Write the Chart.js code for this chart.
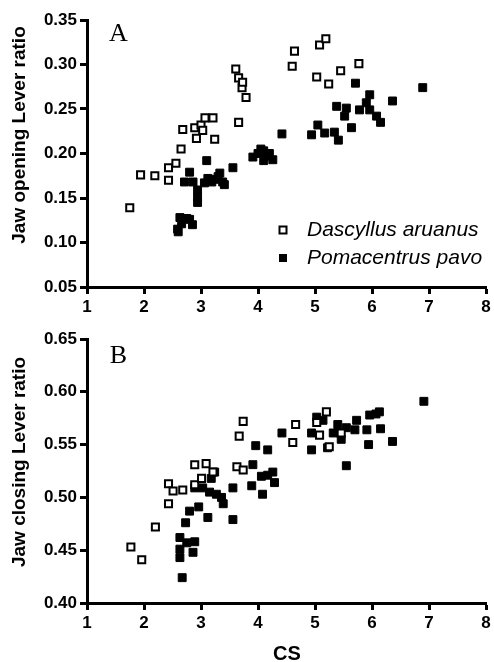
<!DOCTYPE html>
<html>
<head>
<meta charset="utf-8">
<script src="https://cdn.jsdelivr.net/npm/chart.js@4.4.1/dist/chart.umd.min.js"></script>
<style>
  body { margin: 0; background: #fff; }
  .panel { position: absolute; left: 0; width: 494px; }
</style>
</head>
<body>
<div class="panel" style="top:0;height:320px"><canvas id="panelA"></canvas></div>
<div class="panel" style="top:320px;height:342px"><canvas id="panelB"></canvas></div>
<script>
const xTicks = [1, 2, 3, 4, 5, 6, 7, 8];
const yTicksA = [0.05, 0.10, 0.15, 0.20, 0.25, 0.30, 0.35];
const yTicksB = [0.40, 0.45, 0.50, 0.55, 0.60, 0.65];
const speciesNames = ['Dascyllus aruanus', 'Pomacentrus pavo'];

// panel A: jaw opening lever ratio
const dascA_cs = [1.75, 1.94, 2.19, 2.43, 2.43, 2.56, 2.65, 2.68, 2.89, 2.92, 3.0, 3.03, 3.07, 3.21, 3.24,
  3.61, 3.66, 3.66, 3.72, 3.73, 3.79, 4.60, 4.64, 5.03, 5.08, 5.19, 5.24, 5.45, 5.77];
const dascA_ratio = [0.139, 0.176, 0.175, 0.170, 0.184, 0.189, 0.205, 0.227, 0.229, 0.217, 0.232, 0.226, 0.240, 0.240, 0.216,
  0.295, 0.285, 0.235, 0.274, 0.280, 0.263, 0.298, 0.315, 0.286, 0.322, 0.329, 0.278, 0.293, 0.301];
const pomaA_cs = [2.59, 2.60, 2.63, 2.66, 2.75, 2.80, 2.85, 2.71, 2.80, 2.86, 2.94, 2.94, 2.94, 3.06, 3.10, 3.12, 3.19,
  3.25, 3.30, 3.33, 3.38, 3.41, 3.56, 3.91, 4.00, 4.05, 4.10, 4.15, 4.20, 4.26, 4.10, 4.42, 4.94, 5.05, 5.17, 5.34,
  5.41, 5.64, 5.38, 5.55, 5.52, 5.71, 5.96, 5.78, 5.90, 5.96, 6.08, 6.15, 6.36, 6.89];
const pomaA_ratio = [0.115, 0.112, 0.128, 0.121, 0.127, 0.126, 0.120, 0.168, 0.179, 0.168, 0.159, 0.151, 0.145, 0.167, 0.192, 0.172, 0.168,
  0.171, 0.174, 0.178, 0.168, 0.165, 0.184, 0.196, 0.200, 0.205, 0.203, 0.197, 0.200, 0.193, 0.192, 0.222, 0.221, 0.232, 0.223, 0.224,
  0.215, 0.229, 0.253, 0.251, 0.242, 0.279, 0.266, 0.249, 0.257, 0.249, 0.242, 0.235, 0.259, 0.274];

// panel B: jaw closing lever ratio
const dascB_cs = [1.77, 1.96, 2.20, 2.43, 2.43, 2.51, 2.68, 2.89, 2.89, 3.01, 3.09, 3.21, 3.63, 3.67, 3.74, 3.74,
  4.61, 4.66, 5.03, 5.08, 5.20, 5.25, 5.46];
const dascB_ratio = [0.453, 0.441, 0.472, 0.494, 0.513, 0.506, 0.507, 0.531, 0.512, 0.518, 0.532, 0.524, 0.529, 0.558, 0.572, 0.526,
  0.552, 0.569, 0.571, 0.559, 0.581, 0.548, 0.561];
const pomaB_cs = [2.67, 2.63, 2.63, 2.63, 2.75, 2.86, 2.89, 2.73, 2.80, 2.96, 3.12, 2.89, 3.03, 3.15, 3.27, 3.36, 3.39,
  3.18, 3.24, 3.56, 3.56, 3.89, 3.91, 3.96, 4.17, 4.08, 4.06, 4.17, 4.26, 4.29, 4.42, 4.94, 4.94, 5.22, 5.14, 5.03,
  5.32, 5.40, 5.55, 5.46, 5.55, 5.73, 5.70, 5.91, 5.94, 5.96, 6.13, 6.07, 6.15, 6.36, 6.91];
const pomaB_ratio = [0.424, 0.443, 0.451, 0.462, 0.457, 0.448, 0.458, 0.476, 0.487, 0.491, 0.481, 0.509, 0.509, 0.505, 0.503, 0.500, 0.494,
  0.518, 0.524, 0.479, 0.509, 0.511, 0.531, 0.549, 0.545, 0.503, 0.520, 0.521, 0.524, 0.514, 0.561, 0.545, 0.561, 0.547, 0.573, 0.576,
  0.561, 0.569, 0.566, 0.555, 0.530, 0.573, 0.564, 0.564, 0.550, 0.578, 0.581, 0.579, 0.565, 0.553, 0.591];

const zip = (xs, ys) => xs.map((x, i) => ({ x, y: ys[i] }));

const openSq = { pointStyle: 'rect', pointRadius: 5, borderWidth: 2, borderColor: '#000', backgroundColor: '#fff' };
const fillSq = { pointStyle: 'rect', pointRadius: 5.6, borderWidth: 1, borderColor: '#000', backgroundColor: '#000' };

const decor = {
  id: 'decor',
  afterDraw(chart, args, o) {
    const ctx = chart.ctx;
    ctx.save();
    ctx.fillStyle = '#000';
    // y axis title
    ctx.save();
    ctx.translate(o.yTitleX, o.yTitleY);
    ctx.rotate(-Math.PI / 2);
    ctx.font = 'bold 19px "Liberation Sans", Arial, sans-serif';
    ctx.textAlign = 'center';
    ctx.textBaseline = 'middle';
    ctx.fillText(o.yTitle, 0, 0);
    ctx.restore();
    // panel letter
    ctx.font = '26px "Liberation Serif", "Times New Roman", serif';
    ctx.textAlign = 'center';
    ctx.textBaseline = 'alphabetic';
    ctx.fillText(o.letter, 118.5, o.letterY);
    if (o.xTitle) {
      ctx.font = 'bold 20px "Liberation Sans", Arial, sans-serif';
      ctx.textBaseline = 'middle';
      ctx.fillText(o.xTitle, 287, o.xTitleY);
    }
    if (o.legend) {
      ctx.font = 'italic 21px "Liberation Sans", Arial, sans-serif';
      ctx.textAlign = 'left';
      ctx.textBaseline = 'middle';
      ctx.lineWidth = 2;
      ctx.strokeStyle = '#000';
      ctx.strokeRect(279.5, 226.5, 7, 7);
      ctx.fillRect(279, 254, 8, 8);
      ctx.fillText(speciesNames[0], 307, 230);
      ctx.fillText(speciesNames[1], 307, 258);
    }
    ctx.restore();
  }
};

function axisStyle(min, max, step, ticks, digits, fitKey, fitVal) {
  return {
    type: 'linear',
    min, max,
    afterBuildTicks: (s) => { s.ticks = ticks.map(v => ({ value: v })); },
    afterFit: (s) => { s[fitKey] = fitVal; },
    ticks: {
      stepSize: step,
      color: '#000',
      padding: 3,
      font: { family: '"Liberation Sans", Arial, sans-serif', size: 17, weight: 'bold' },
      callback: (v) => digits ? Number(v).toFixed(digits) : v
    },
    grid: { display: true, drawOnChartArea: false, drawTicks: true, tickLength: 7, tickWidth: 3, tickColor: '#000' },
    border: { display: true, color: '#000', width: 3 }
  };
}

function makePanel(id, sets, yMin, yMax, yTicks, padTop, xHeight, deco) {
  return new Chart(document.getElementById(id), {
    type: 'scatter',
    data: {
      datasets: [
        { label: speciesNames[0], data: sets[0], ...openSq },
        { label: speciesNames[1], data: sets[1], ...fillSq }
      ]
    },
    options: {
      responsive: true,
      maintainAspectRatio: false,
      animation: false,
      layout: { padding: { top: padTop, right: 8, left: 0, bottom: 0 } },
      plugins: { legend: { display: false }, tooltip: { enabled: false }, decor: deco },
      scales: {
        x: axisStyle(1, 8, 1, xTicks, 0, 'height', xHeight),
        y: axisStyle(yMin, yMax, 0.05, yTicks, 2, 'width', 87)
      }
    },
    plugins: [decor]
  });
}

makePanel('panelA', [zip(dascA_cs, dascA_ratio), zip(pomaA_cs, pomaA_ratio)], 0.05, 0.35, yTicksA, 20, 33,
  { yTitle: 'Jaw opening Lever ratio', yTitleX: 20, yTitleY: 135, letter: 'A', letterY: 41, legend: true });
makePanel('panelB', [zip(dascB_cs, dascB_ratio), zip(pomaB_cs, pomaB_ratio)], 0.40, 0.65, yTicksB, 19, 59,
  { yTitle: 'Jaw closing Lever ratio', yTitleX: 20, yTitleY: 142, letter: 'B', letterY: 43, xTitle: 'CS', xTitleY: 334 });
</script>
</body>
</html>
